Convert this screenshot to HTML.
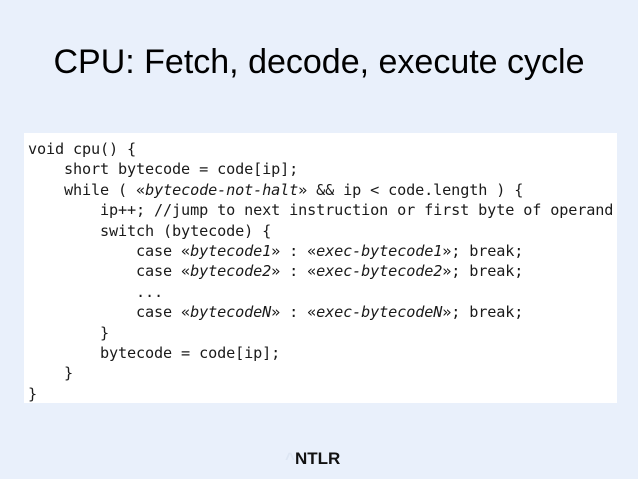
<!DOCTYPE html>
<html><head><meta charset="utf-8"><style>
body{margin:0;width:638px;height:479px;background:#e9f0fb;position:relative;overflow:hidden;font-family:"Liberation Sans",sans-serif}
.t{position:absolute;left:0;width:638px;top:42px;text-align:center;font-size:34px;color:#000;line-height:40px}
.box{position:absolute;left:24px;top:133px;width:593px;height:270px;background:#fff}
pre{position:absolute;left:28px;top:139px;margin:0;font-family:"DejaVu Sans Mono",monospace;font-size:15.2px;letter-spacing:-0.14px;line-height:20.4px;color:#1a1a1a}
i{font-style:italic}
.l{position:absolute;left:285px;top:449px;font-size:17px;font-weight:bold;color:#111}
</style></head><body>
<div class="t">CPU: Fetch, decode, execute cycle</div>
<div class="box"></div>
<pre>void cpu() {
    short bytecode = code[ip];
    while ( «<i>bytecode-not-halt</i>» &amp;&amp; ip &lt; code.length ) {
        ip++; //jump to next instruction or first byte of operand
        switch (bytecode) {
            case «<i>bytecode1</i>» : «<i>exec-bytecode1</i>»; break;
            case «<i>bytecode2</i>» : «<i>exec-bytecode2</i>»; break;
            ...
            case «<i>bytecodeN</i>» : «<i>exec-bytecodeN</i>»; break;
        }
        bytecode = code[ip];
    }
}</pre>
<div class="l"><span style="color:#dde6f3">^</span>NTLR</div>
</body></html>
